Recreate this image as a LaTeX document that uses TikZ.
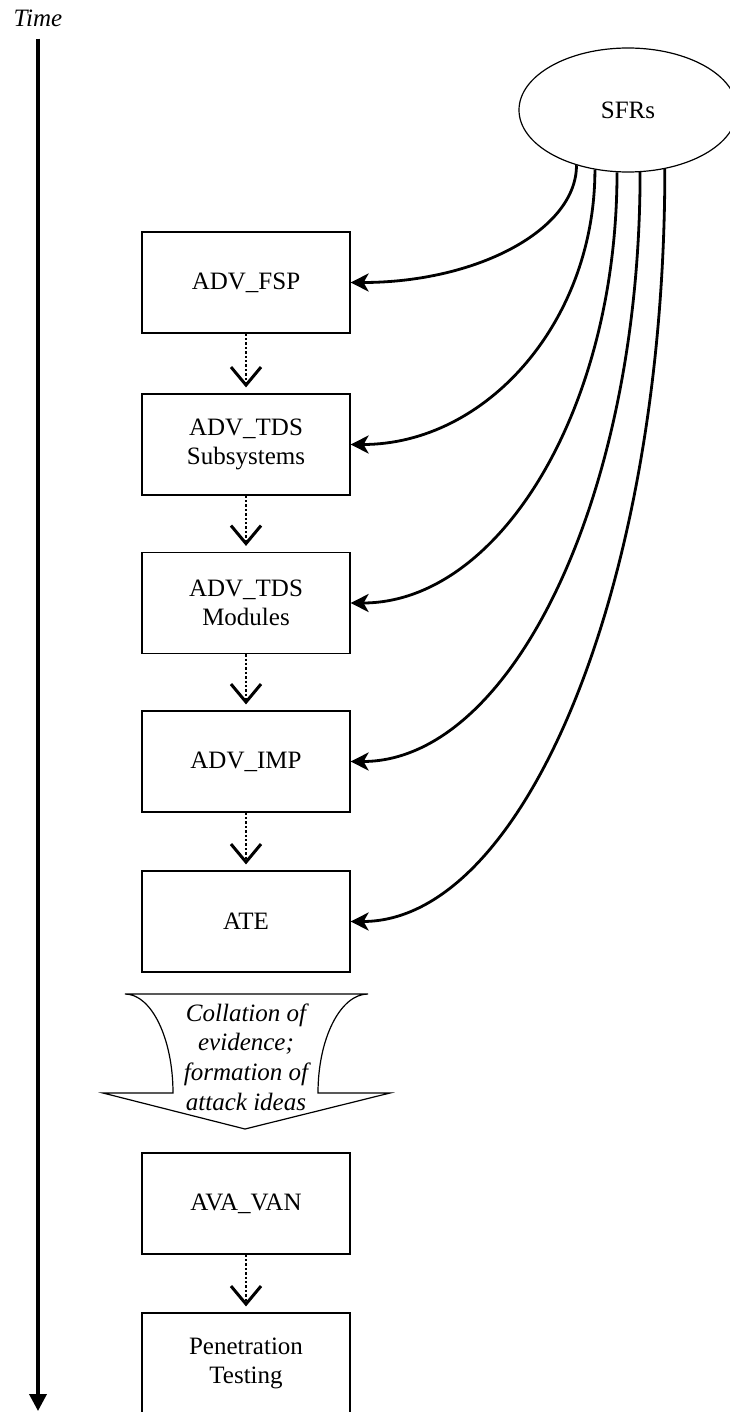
\documentclass[tikz,border=0pt]{standalone}
\usepackage{fontspec}
\setmainfont{Liberation Serif}
\usetikzlibrary{arrows.meta,positioning,shapes.geometric}

\tikzset{
  stage/.style={draw,line width=0.6pt,minimum width=104pt,minimum height=50.5pt,
    align=center,inner sep=2pt},
  feed/.style={line width=1.4pt,-{Stealth[length=9pt,width=9pt,inset=2.5pt]}},
  flow/.style={line width=1.2pt,densely dotted,shorten >=3pt,
    -{Straight Barb[length=9pt,width=15pt,line width=1.5pt]}},
}

\begin{document}
\begin{tikzpicture}[x=0.5pt,y=-0.5pt,font=\fontsize{12.5}{14.8}\selectfont]
\useasboundingbox (0,0) rectangle (729,1412);
%% Time axis
\node[anchor=base,inner ysep=5.5pt,font=\fontsize{12.5}{14.8}\selectfont\itshape]
  (time) at (38,27) {Time};
\coordinate (tend) at (38,1411);
\draw[line width=1.8pt,-{Triangle[length=8.5pt,width=8.5pt]}] (time.south) -- (tend);
%% SFRs
\node[draw,ellipse,line width=0.6pt,minimum width=109pt,minimum height=62pt,
  inner sep=0pt] (sfr) at (628,110) {SFRs};
%% Stages
\foreach \nm/\y/\txt in {fsp/282.5/{ADV\_FSP}, tdss/444.5/{ADV\_TDS\\Subsystems},
                         tdsm/603/{ADV\_TDS\\Modules}, imp/761.5/{ADV\_IMP},
                         ate/921.5/{ATE}, ava/1203.5/{AVA\_VAN},
                         pen/1363.5/{Penetration\\Testing}} {
  \node[stage] (\nm) at (246,\y) {\txt};
}
%% dotted steps
\foreach \a/\b in {fsp/tdss, tdss/tdsm, tdsm/imp, imp/ate, ava/pen} {
  \draw[flow] (\a.south) -- (\b.north);
}
%% SFRs feeding each stage
\foreach \ang/\tgt/\od/\id in {227.8/fsp/32.4pt/62.9pt, 241.6/tdss/76pt/67.9pt,
                               260.8/tdsm/119pt/74pt, 281.9/imp/162.7pt/80.3pt,
                               302.4/ate/208pt/87pt} {
  \draw[feed] (sfr.\ang) to[out=-90,in=0,out distance=\od,in distance=\id] (\tgt.east);
}
%% Collation arrow
\draw[line width=0.6pt,line join=miter] (125,994) -- (368,994)
  to[out=180,in=90,out distance=13.8pt,in distance=27.3pt] (318,1093)
  -- (390,1093) -- (245,1129) -- (103,1093) -- (173,1093)
  to[out=90,in=0,out distance=27.3pt,in distance=13.2pt] (125,994) -- cycle;
\node[align=center,font=\fontsize{12.5}{14.8}\selectfont\itshape] (collate) at (246,1057)
  {Collation of\\evidence;\\formation of\\attack ideas};
\end{tikzpicture}
\end{document}
